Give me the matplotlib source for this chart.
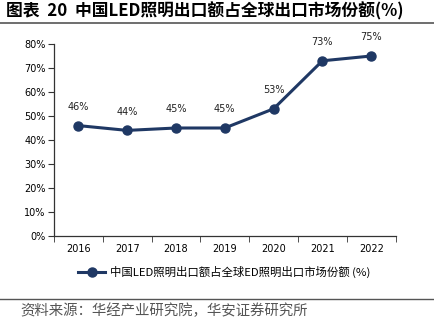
import matplotlib
matplotlib.use("Agg")
import matplotlib.pyplot as plt
from matplotlib.lines import Line2D
import numpy as np

plt.rcParams['font.family'] = ['Noto Sans CJK SC', 'DejaVu Sans']

years = ['2016', '2017', '2018', '2019', '2020', '2021', '2022']
share = [46, 44, 45, 45, 53, 73, 75]
yticks = [0, 10, 20, 30, 40, 50, 60, 70, 80]
title = '图表  20  中国LED照明出口额占全球出口市场份额(%)'
legend_label = '中国LED照明出口额占全球ED照明出口市场份额 (%)'
source = '资料来源：华经产业研究院，华安证券研究所'

W, H = 435, 332
fig = plt.figure(figsize=(W/100, H/100), dpi=100)

color = '#1F3864'
ax = fig.add_axes([54/W, 1-236/H, (395.6-54)/W, (236-44)/H])
x = np.arange(len(years))
ax.plot(x, share, color=color, lw=2.2, marker='o', ms=6.5, zorder=3)
for xi, v in zip(x, share):
    ax.annotate(f'{v}%', (xi, v), xytext=(0, 10), textcoords='offset points',
                ha='center', va='bottom', fontsize=7, color='#222222',
                family=['DejaVu Sans'])
ax.set_xlim(-0.5, len(years)-0.5)
ax.set_ylim(0, 80)
ax.set_yticks(yticks)
ax.set_yticklabels([f'{t}%' for t in yticks], fontsize=7, family=['DejaVu Sans'])
ax.set_xticks(x)
ax.set_xticklabels(years, fontsize=7, family=['DejaVu Sans'])
ax.set_xticks(np.arange(len(years)+1)-0.5, minor=True)
ax.tick_params(axis='x', which='major', length=0, pad=6)
ax.tick_params(axis='x', which='minor', length=4, direction='out', color='#333333')
ax.tick_params(axis='y', length=4, direction='out', color='#333333', pad=2)
for s in ['top', 'right']:
    ax.spines[s].set_visible(False)
for s in ['left', 'bottom']:
    ax.spines[s].set_color('#333333')
    ax.spines[s].set_linewidth(0.9)

# legend
handle = Line2D([], [], color=color, lw=2.2, marker='o', ms=6.5)
fig.legend([handle], [legend_label], loc='center', bbox_to_anchor=(224/W, 1-272/H),
           frameon=False, fontsize=8.2, handlelength=2.4, handletextpad=0.4)

# title and rules
fig.text(6/W, 1-11/H, title, fontsize=12.1, fontweight='bold', va='center', ha='left')
fig.add_artist(Line2D([0, 1], [1-23/H, 1-23/H], color='#555555', lw=1.2))
fig.add_artist(Line2D([0, 1], [1-299/H, 1-299/H], color='#555555', lw=1.0))
fig.text(20/W, 1-311/H, source, fontsize=10.4, color='#555555', va='center', ha='left')

fig.savefig('out.png', dpi=100)
